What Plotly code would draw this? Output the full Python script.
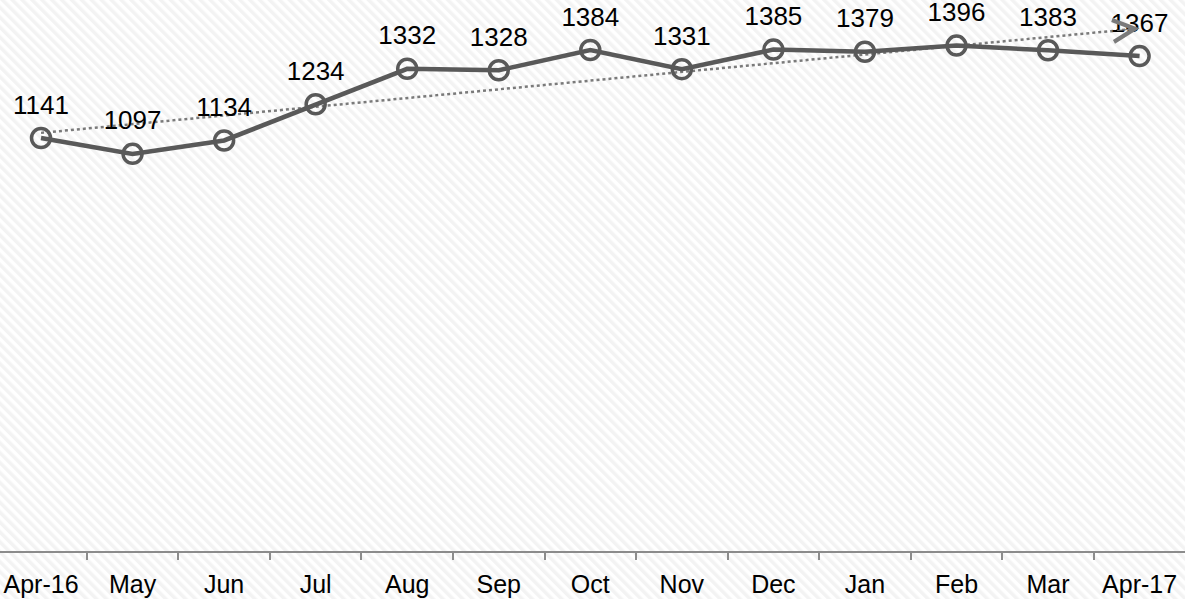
import base64
import numpy as np
import plotly.graph_objects as go

# ---- data ----
months = ["Apr-16", "May", "Jun", "Jul", "Aug", "Sep", "Oct", "Nov", "Dec", "Jan", "Feb", "Mar", "Apr-17"]
values = [1141, 1097, 1134, 1234, 1332, 1328, 1384, 1331, 1385, 1379, 1396, 1383, 1367]

# linear trend (computed from the data)
idx = np.arange(len(values))
slope, intercept = np.polyfit(idx, values, 1)
trend = list(intercept + slope * idx)

W, H = 1185, 599
B = 48
YMAX = 1522
XR = [-0.448, 12.496]

# background diagonal stripe pattern
svg = (
    f'<svg xmlns="http://www.w3.org/2000/svg" width="{W}" height="{H}" preserveAspectRatio="none">'
    '<defs><pattern id="p" width="7" height="7" patternUnits="userSpaceOnUse" patternTransform="rotate(-45)">'
    '<rect width="3.5" height="7" fill="#f3f3f3"/></pattern></defs>'
    '<rect width="100%" height="100%" fill="white"/>'
    '<rect width="100%" height="100%" fill="url(#p)"/></svg>'
)
bg_src = "data:image/svg+xml;base64," + base64.b64encode(svg.encode()).decode()

fig = go.Figure()

fig.add_trace(go.Scatter(
    x=months, y=trend, mode="lines",
    line=dict(color="#7a7a7a", width=2.5, dash="dot"),
    hoverinfo="skip", showlegend=False,
))

fig.add_trace(go.Scatter(
    x=months, y=values, mode="lines+markers",
    line=dict(color="#595959", width=4.5),
    marker=dict(size=19, color="rgba(0,0,0,0)", line=dict(color="#595959", width=3.5)),
    showlegend=False,
))

# data labels
fig.add_trace(go.Scatter(
    x=months, y=values, mode="markers+text",
    marker=dict(size=27, opacity=0),
    text=[str(v) for v in values], textposition="top center",
    textfont=dict(family="Liberation Sans, Arial, sans-serif", size=26, color="#000000"),
    cliponaxis=False,
    hoverinfo="skip", showlegend=False,
))

# arrowhead at end of trend line (direction derived from the trend slope in pixels)
plot_h = H - B
px_per_cat = W / (XR[1] - XR[0])
px_per_unit = plot_h / YMAX
dx, dy = px_per_cat, slope * px_per_unit
n = (dx ** 2 + dy ** 2) ** 0.5
L = 24
fig.add_annotation(
    x=months[-1], y=trend[-1], xref="x", yref="y",
    ax=-L * dx / n, ay=L * dy / n,
    text="", showarrow=True, arrowhead=5, arrowsize=3.6, arrowwidth=1.2, arrowcolor="#7a7a7a",
)

fig.update_layout(
    width=W, height=H,
    margin=dict(l=0, r=0, t=0, b=B),
    paper_bgcolor="white",
    plot_bgcolor="rgba(0,0,0,0)",
    images=[dict(source=bg_src, xref="paper", yref="paper", x=0, y=1,
                 sizex=1, sizey=H / plot_h, xanchor="left", yanchor="top",
                 sizing="stretch", layer="below")],
    xaxis=dict(
        type="category", range=XR,
        showline=True, linecolor="#8c8c8c", linewidth=2,
        ticks="outside", tickson="boundaries", ticklen=7, tickcolor="#8c8c8c", tickwidth=1.5,
        ticklabelstandoff=10,
        tickfont=dict(family="Liberation Sans, Arial, sans-serif", size=25, color="#000000"),
        showgrid=False, zeroline=False,
    ),
    yaxis=dict(range=[0, YMAX], visible=False, showgrid=False, zeroline=False),
)

fig.write_html("out.html", config={"displayModeBar": False},
               post_script="document.body.style.margin='0';document.body.style.overflow='hidden';")
